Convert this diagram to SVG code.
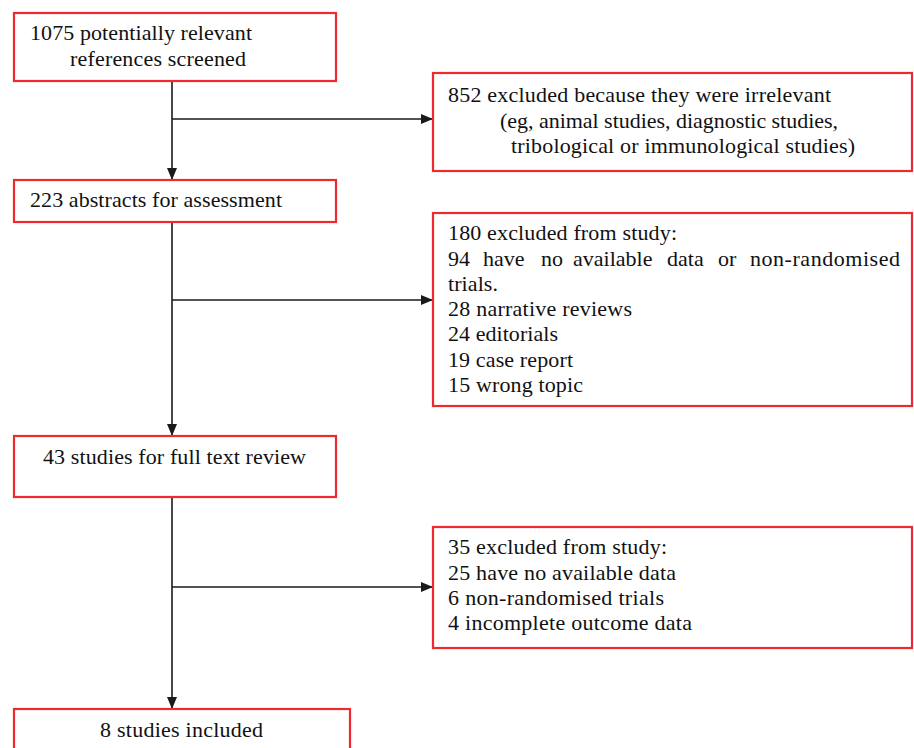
<svg xmlns="http://www.w3.org/2000/svg" width="914" height="748" viewBox="0 0 914 748">
<style>
.box{fill:#fff;stroke:#ee2a2e;stroke-width:2.2}
.t{font-family:"Liberation Serif","Times New Roman",serif;font-size:22px;fill:#111}
.ln{stroke:#1a1a1a;stroke-width:1.6;fill:none}
</style>
<defs>
<marker id="ah" markerWidth="12" markerHeight="10" refX="11" refY="5" orient="auto" markerUnits="userSpaceOnUse">
<path d="M0,0 L12,5 L0,10 Z" fill="#1a1a1a"/>
</marker>
</defs>
<rect width="914" height="748" fill="#fff"/>
<g id="connectors">
<line class="ln" x1="172" y1="81" x2="172" y2="179" marker-end="url(#ah)"/>
<line class="ln" x1="172" y1="119" x2="432" y2="119" marker-end="url(#ah)"/>
<line class="ln" x1="172" y1="222" x2="172" y2="435" marker-end="url(#ah)"/>
<line class="ln" x1="172" y1="300" x2="432" y2="300" marker-end="url(#ah)"/>
<line class="ln" x1="172" y1="497" x2="172" y2="708" marker-end="url(#ah)"/>
<line class="ln" x1="172" y1="587" x2="432" y2="587" marker-end="url(#ah)"/>
</g>
<g id="n1">
<rect class="box" x="14" y="13" width="322" height="68"/>
<text class="t" x="30" y="40" textLength="222">1075 potentially relevant</text>
<text class="t" x="70" y="66" textLength="176">references screened</text>
</g>
<g id="n2">
<rect class="box" x="14" y="180" width="322" height="42"/>
<text class="t" x="30" y="207" textLength="252">223 abstracts for assessment</text>
</g>
<g id="n3">
<rect class="box" x="14" y="436" width="322" height="61"/>
<text class="t" x="43" y="464" textLength="263">43 studies for full text review</text>
</g>
<g id="n4">
<rect class="box" x="14" y="709" width="336" height="50"/>
<text class="t" x="100" y="737" textLength="163">8 studies included</text>
</g>
<g id="e1">
<rect class="box" x="433" y="73" width="479" height="98"/>
<text class="t" x="448" y="102" textLength="383">852 excluded because they were irrelevant</text>
<text class="t" x="500" y="128" textLength="338">(eg, animal studies, diagnostic studies,</text>
<text class="t" x="511" y="153" textLength="344">tribological or immunological studies)</text>
</g>
<g id="e2">
<rect class="box" x="433" y="213" width="479" height="193"/>
<text class="t" x="448" y="240" textLength="229">180 excluded from study:</text>
<text class="t" y="266"><tspan x="448">94</tspan><tspan x="483">have</tspan><tspan x="541">no</tspan><tspan x="573">available</tspan><tspan x="667">data</tspan><tspan x="718">or</tspan><tspan x="750" textLength="150">non-randomised</tspan></text>
<text class="t" x="448" y="291" textLength="50">trials.</text>
<text class="t" x="448" y="316" textLength="184">28 narrative reviews</text>
<text class="t" x="448" y="341" textLength="110">24 editorials</text>
<text class="t" x="448" y="367" textLength="125">19 case report</text>
<text class="t" x="448" y="392" textLength="135">15 wrong topic</text>
</g>
<g id="e3">
<rect class="box" x="433" y="527" width="479" height="121"/>
<text class="t" x="448" y="554" textLength="219">35 excluded from study:</text>
<text class="t" x="448" y="580" textLength="228">25 have no available data</text>
<text class="t" x="448" y="605" textLength="216">6 non-randomised trials</text>
<text class="t" x="448" y="630" textLength="244">4 incomplete outcome data</text>
</g>
</svg>
